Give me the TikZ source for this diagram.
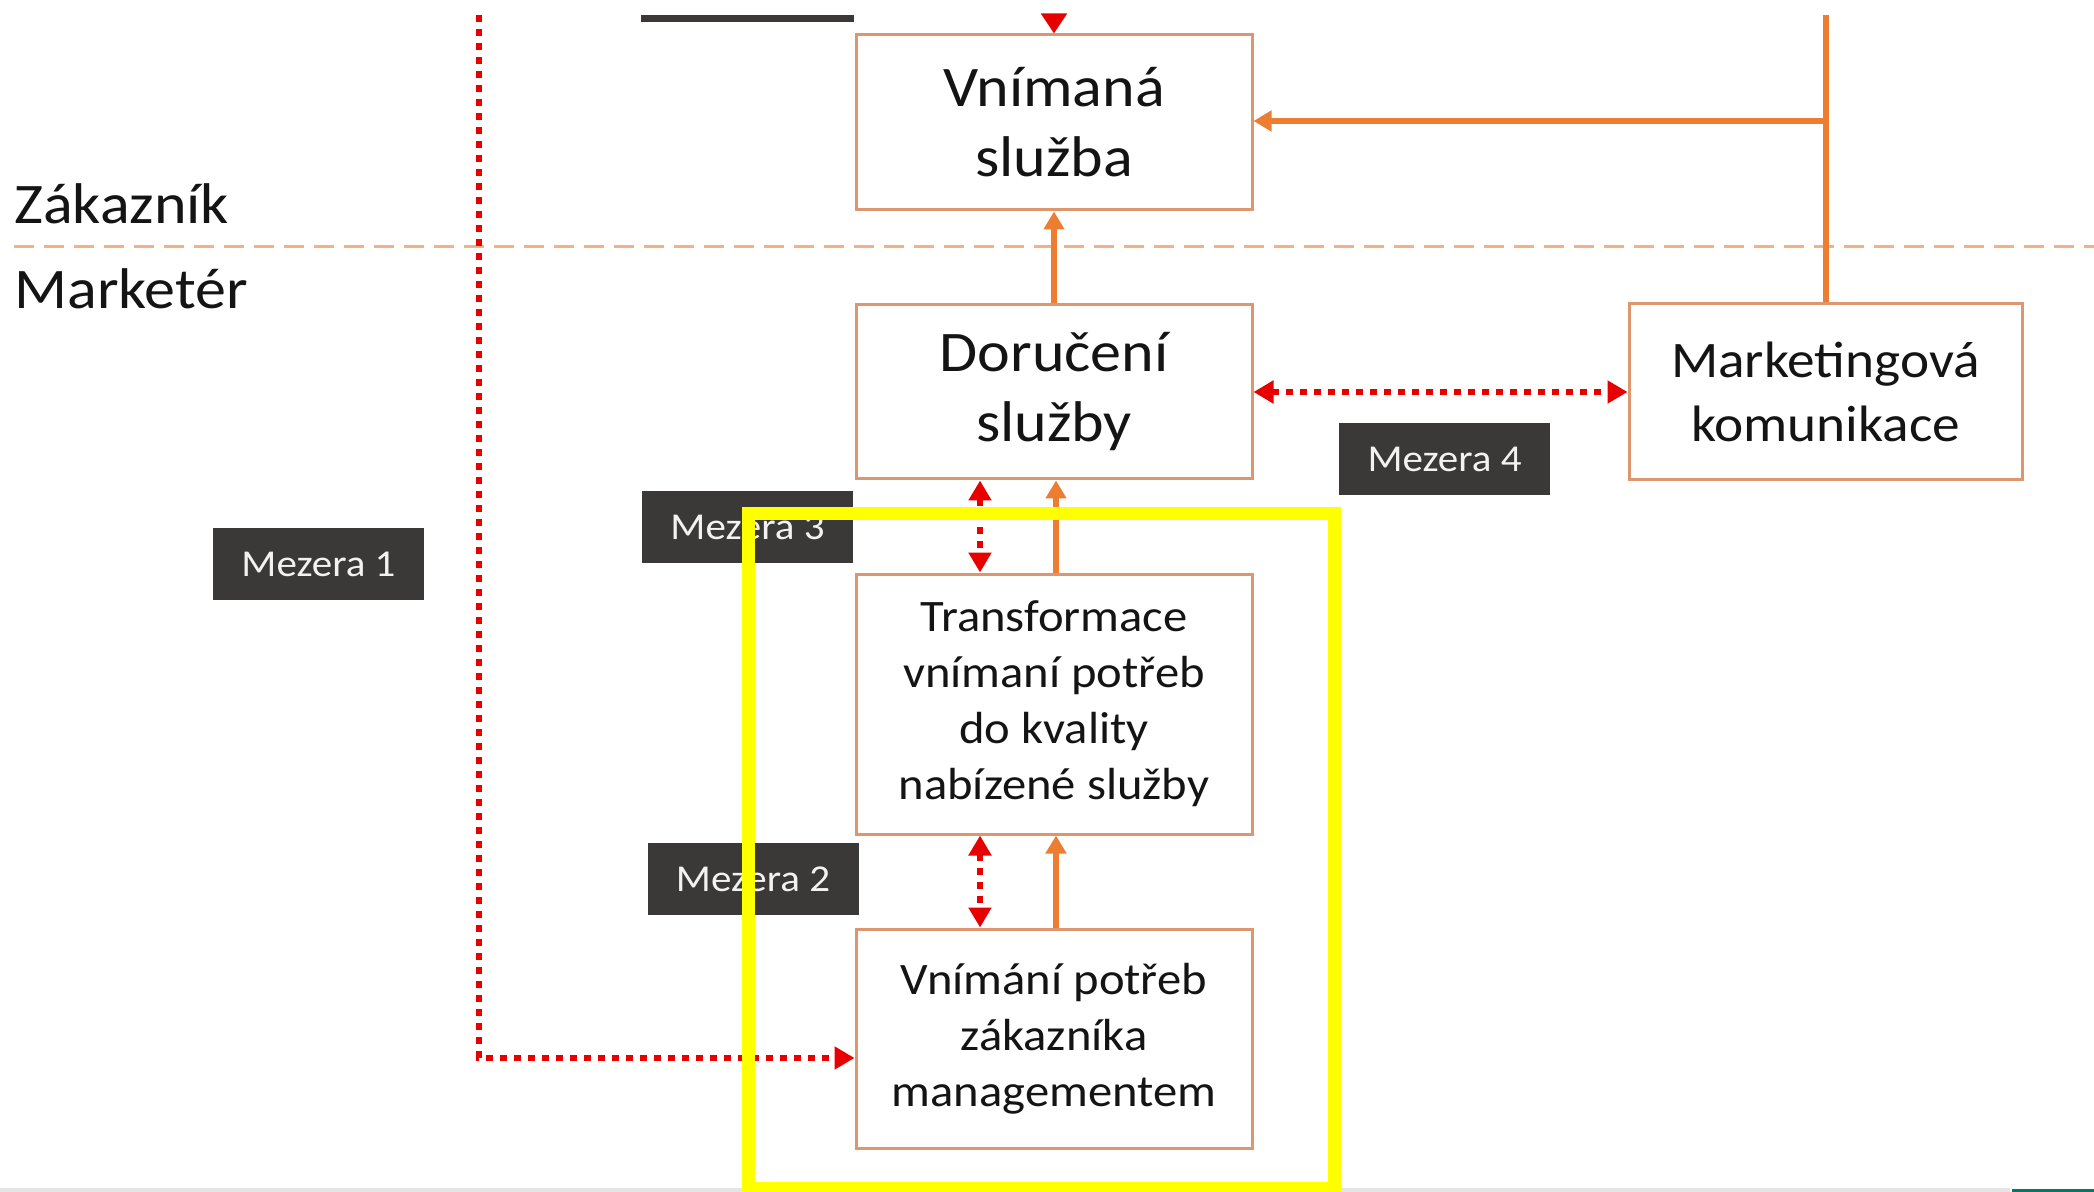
\documentclass[tikz,border=0pt]{standalone}
\usepackage{fontspec}
\setmainfont{Carlito}[FakeStretch=1.08]
\usetikzlibrary{arrows.meta}
\definecolor{lineorange}{RGB}{237,125,49}
\definecolor{boxborder}{RGB}{222,150,110}
\definecolor{dashorange}{RGB}{244,177,131}
\definecolor{gapred}{RGB}{232,0,0}
\definecolor{labelgray}{RGB}{59,56,56}
\definecolor{labeltext}{RGB}{242,242,242}
\definecolor{hiyellow}{RGB}{255,255,0}
\definecolor{logoteal}{RGB}{0,120,110}
\definecolor{stripgray}{RGB}{228,228,228}
\definecolor{inktext}{RGB}{20,20,20}
\begin{document}
\begin{tikzpicture}[x=0.5pt,y=-0.5pt,
 procbox/.style={draw=boxborder,line width=1.5pt,fill=white,inner sep=0pt,align=center,text=inktext},
 bigtext/.style={font=\fontsize{28.7}{35}\selectfont},
 midtext/.style={font=\fontsize{25.6}{32}\selectfont},
 smalltext/.style={font=\fontsize{22.5}{28}\selectfont},
 gaplabel/.style={fill=labelgray,text=labeltext,minimum width=105.5pt,minimum height=36pt,inner sep=0pt,font=\fontsize{19}{22}\selectfont},
 sidetext/.style={anchor=base west,inner sep=0pt,font=\fontsize{28.7}{35}\selectfont,text=inktext},
 orangeline/.style={draw=lineorange,line width=3pt},
 orangearrow/.style={orangeline,-{Triangle[length=9pt,width=10pt]}},
 reddots/.style={draw=gapred,line width=3pt,dash pattern=on 3.5pt off 3.5pt},
 redone/.style={reddots,-{Triangle[length=10pt,width=11pt]}},
 redtwo/.style={reddots,{Triangle[length=10pt,width=11pt]}-{Triangle[length=10pt,width=11pt]}},
 redsolid/.style={draw=gapred,line width=3pt,-{Triangle[length=10pt,width=12.5pt]}},
]
\useasboundingbox (0,0) rectangle (2094,1192);
\fill[white] (0,0) rectangle (2094,1192);
\clip (0,0) rectangle (2094,1192);

% bottom strip and logo fragment
\fill[stripgray] (0,1188) rectangle (2010,1192);
\fill[logoteal] (2012,1189) rectangle (2094,1192);

% divider
\coordinate (dl) at (14,247);
\coordinate (dr) at (2094,247);
\draw[dashorange,line width=1.5pt,dash pattern=on 10pt off 5pt] (dl) -- (dr);

% side texts
\node[sidetext] (zak) at (14,224) {Zákazník};
\node[sidetext] (mkt) at (14,309) {Marketér};

% boxes
\node[procbox,bigtext,minimum width=198pt,minimum height=87.5pt] (vnimana) at (1054,122.5) {Vnímaná\\služba};
\node[procbox,bigtext,minimum width=198pt,minimum height=87pt] (doruceni) at (1054,392) {Doručení\\služby};
\node[procbox,smalltext,minimum width=198pt,minimum height=130pt] (transf) at (1054,704) {Transformace\\vnímaní potřeb\\do kvality\\nabízené služby};
\node[procbox,smalltext,minimum width=198pt,minimum height=109.5pt] (vnimani) at (1054,1038.5) {Vnímání potřeb\\zákazníka\\managementem};
\node[procbox,midtext,minimum width=196.5pt,minimum height=88pt] (mark) at (1825.5,392) {Marketingová\\komunikace};

% gap labels
\node[gaplabel] (m1) at (318.5,564) {Mezera 1};
\node[gaplabel] (m3) at (747.5,527) {Mezera 3};
\node[gaplabel] (m2) at (753,879) {Mezera 2};
\node[gaplabel] (m4) at (1444.5,459.5) {Mezera 4};
\node[fill=labelgray,minimum width=106.5pt,minimum height=3.5pt,inner sep=0pt] (m5) at (747.5,18.5) {};

% red dotted gap 1 path
\coordinate (r1top) at (479,15);
\coordinate (r1bot) at (479,1058);
\draw[redone] (r1top) -- (r1bot) -- (r1bot -| vnimani.west);

% red arrow into perceived service
\coordinate (r5top) at (1054,15);
\draw[redsolid] (r5top) -- (vnimana.north);

% orange flow
\draw[orangearrow] (doruceni.north) -- (vnimana.south);
\draw[orangearrow] ([xshift=1pt]transf.north) -- ([xshift=1pt]doruceni.south);
\draw[orangearrow] ([xshift=1pt]vnimani.north) -- ([xshift=1pt]transf.south);

% marketing communication to perceived service
\coordinate (otop) at (1825.5,15);
\coordinate (ojoin) at (1825.5,121);
\draw[orangeline] (otop) -- (mark.north);
\draw[orangearrow] (ojoin) -- (ojoin -| vnimana.east);

% red dotted double arrows
\draw[redtwo] (doruceni.east) -- (mark.west);
\draw[redtwo] ([xshift=-37pt]doruceni.south) -- ([xshift=-37pt]transf.north);
\draw[redtwo] ([xshift=-37pt]transf.south) -- ([xshift=-37pt]vnimani.north);

% yellow highlight
\draw[hiyellow,line width=6.5pt] (748.5,513.5) rectangle (1334.5,1188);
\end{tikzpicture}
\end{document}
